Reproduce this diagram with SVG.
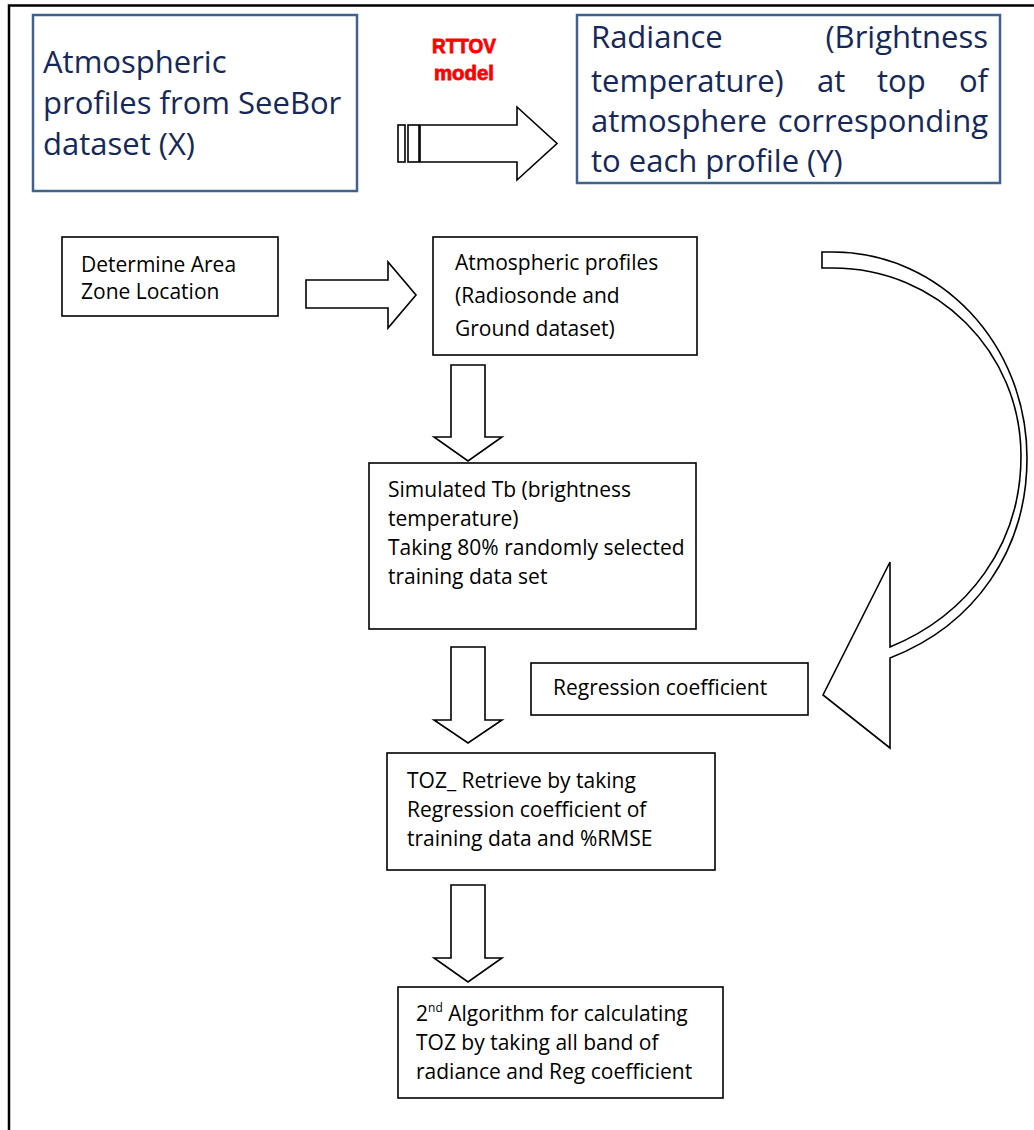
<svg xmlns="http://www.w3.org/2000/svg" width="1034" height="1130" viewBox="0 0 1034 1130">
<style>
.bg{fill:#fff}
.frame{stroke:#000;stroke-width:2.5;fill:none}
.bbox{fill:#fff;stroke:#41628f;stroke-width:2.5}
.box{fill:#fff;stroke:#000;stroke-width:1.6}
.arrow{fill:#fff;stroke:#000;stroke-width:1.6;stroke-linejoin:miter}
.bt{font-family:"Open Sans","Liberation Sans",sans-serif;font-size:31px;fill:#16285a}
.t{font-family:"Open Sans","Liberation Sans",sans-serif;font-size:21px;fill:#000}
.sup{font-size:12px}
.red{font-family:"Liberation Sans",Arial,sans-serif;font-weight:bold;font-size:20px;fill:#f00;stroke:#f00;stroke-width:0.8;text-anchor:middle}
</style>
<rect class="bg" x="0" y="0" width="1034" height="1130"/>
<g id="frame">
<path class="frame" d="M9,1130 V5.5 H1034"/>
</g>
<g id="connectors">
<g id="rttov-arrow">
<rect class="arrow" x="398" y="125" width="7" height="37"/>
<rect class="arrow" x="408" y="125" width="11" height="37"/>
<path class="arrow" d="M420,125 H517 V107 L557,143.5 L517,180 V162 H420 Z"/>
<text class="red" x="464" y="53" textLength="64" lengthAdjust="spacingAndGlyphs">RTTOV</text>
<text class="red" x="464" y="80" textLength="60" lengthAdjust="spacingAndGlyphs">model</text>
</g>
<path id="arrow-right" class="arrow" d="M306,280 H388 V262 L416,295 L388,328 V308 H306 Z"/>
<path id="arrow-down-1" class="arrow" d="M451,365 H485 V437 H502 L468,461 L434,437 H451 Z"/>
<path id="arrow-down-2" class="arrow" d="M451,647 H485 V720 H502 L468,743 L434,720 H451 Z"/>
<path id="arrow-down-3" class="arrow" d="M451,885 H485 V958 H502 L468,982 L434,958 H451 Z"/>
<path id="arrow-curved" class="arrow" d="M822,252 H833 C940,252 1027,344 1027,458 C1027,550 975,625 890,658 V748 L823,695 L890,562 V647 C968,615 1021,545 1021,456 C1021,352 937,268 833,268 H822 Z"/>
</g>
<g id="node-seebor">
<rect class="bbox" x="33" y="15" width="324" height="176"/>
<text class="bt" x="43" y="73">Atmospheric</text>
<text class="bt" x="43" y="114">profiles from SeeBor</text>
<text class="bt" x="43" y="155">dataset (X)</text>
</g>
<g id="node-radiance">
<rect class="bbox" x="577" y="15" width="423" height="168"/>
<text class="bt" x="591" y="48">Radiance</text>
<text class="bt" x="988" y="48" text-anchor="end">(Brightness</text>
<text class="bt" x="591" y="92">temperature)</text>
<text class="bt" x="817" y="92">at</text>
<text class="bt" x="877" y="92">top</text>
<text class="bt" x="988" y="92" text-anchor="end">of</text>
<text class="bt" x="591" y="132">atmosphere</text>
<text class="bt" x="988" y="132" text-anchor="end">corresponding</text>
<text class="bt" x="591" y="172">to each profile (Y)</text>
</g>
<g id="node-area">
<rect class="box" x="62" y="237" width="216" height="79"/>
<text class="t" x="81" y="272">Determine Area</text>
<text class="t" x="81" y="299">Zone Location</text>
</g>
<g id="node-profiles">
<rect class="box" x="433" y="237" width="264" height="118"/>
<text class="t" x="455" y="270">Atmospheric profiles</text>
<text class="t" x="455" y="303">(Radiosonde and</text>
<text class="t" x="455" y="336">Ground dataset)</text>
</g>
<g id="node-simulated">
<rect class="box" x="369" y="463" width="327" height="166"/>
<text class="t" x="388" y="497">Simulated Tb (brightness</text>
<text class="t" x="388" y="526">temperature)</text>
<text class="t" x="388" y="555">Taking 80% randomly selected</text>
<text class="t" x="388" y="584">training data set</text>
</g>
<g id="node-regression">
<rect class="box" x="531" y="663" width="277" height="52"/>
<text class="t" x="553" y="695">Regression coefficient</text>
</g>
<g id="node-toz">
<rect class="box" x="387" y="753" width="328" height="117"/>
<text class="t" x="407" y="788">TOZ_ Retrieve by taking</text>
<text class="t" x="407" y="817">Regression coefficient of</text>
<text class="t" x="407" y="846">training data and %RMSE</text>
</g>
<g id="node-algorithm">
<rect class="box" x="398" y="987" width="325" height="111"/>
<text class="t" x="416" y="1021">2<tspan class="sup" dy="-9">nd</tspan><tspan dy="9"> Algorithm for calculating</tspan></text>
<text class="t" x="416" y="1050">TOZ by taking all band of</text>
<text class="t" x="416" y="1079">radiance and Reg coefficient</text>
</g>
</svg>
